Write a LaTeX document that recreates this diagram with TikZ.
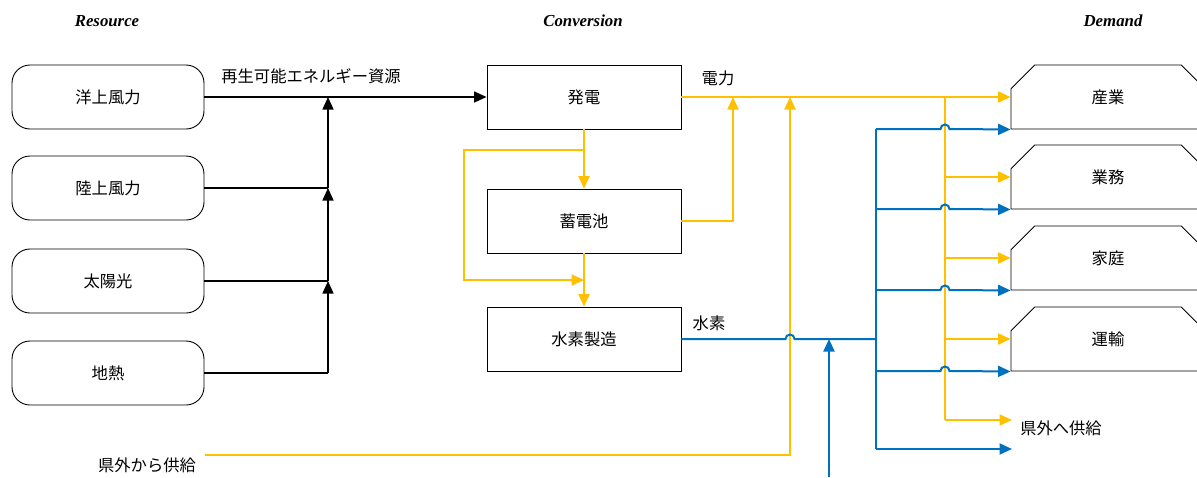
\documentclass[tikz,border=0pt]{standalone}
\usepackage{fontspec}
\setmainfont{Liberation Serif}
\newfontfamily\jp{Noto Sans CJK JP}
\usetikzlibrary{arrows.meta,shapes.misc}
\definecolor{yel}{HTML}{FFC000}
\definecolor{blu}{HTML}{0070C0}
\begin{document}
\begin{tikzpicture}[x=1pt,y=-1pt,
  jpf/.style={font=\jp\fontsize{16.3}{19}\selectfont},
  res/.style={jpf,draw,line width=0.9pt,rounded corners=18pt,minimum width=192pt,minimum height=64pt,inner sep=0pt},
  conv/.style={jpf,draw,line width=0.9pt,minimum width=194pt,minimum height=64pt,inner sep=0pt},
  dem/.style={jpf,draw,line width=0.9pt,chamfered rectangle,chamfered rectangle corners={north west,north east},
    chamfered rectangle xsep=18pt,chamfered rectangle ysep=18pt,minimum width=194pt,minimum height=64pt,inner sep=0pt},
  lab/.style={jpf,inner sep=0pt},
  ttl/.style={font=\bfseries\itshape\fontsize{16.8}{19}\selectfont,inner sep=0pt},
  tip/.style={-{Triangle[length=12.5pt,width=11pt]}},
  blk/.style={draw=black,line width=1.4pt},
  yl/.style={draw=yel,line width=2pt},
  bl/.style={draw=blu,line width=2pt}]
\useasboundingbox (0,0) rectangle (1197,477);

% titles
\node[ttl] (tR) at (107,21) {Resource};
\node[ttl] (tC) at (583,21) {Conversion};
\node[ttl] (tD) at (1113,21) {Demand};

% resource boxes
\node[res] (r1) at (108,97) {洋上風力};
\node[res] (r2) at (108,188) {陸上風力};
\node[res] (r3) at (108,281) {太陽光};
\node[res] (r4) at (108,373) {地熱};

% conversion boxes
\node[conv] (c1) at (584,97) {発電};
\node[conv] (c2) at (584,221) {蓄電池};
\node[conv] (c3) at (584,339) {水素製造};

% demand shapes
\node[dem] (d1) at (1108,97) {産業};
\node[dem] (d2) at (1108,177) {業務};
\node[dem] (d3) at (1108,258) {家庭};
\node[dem] (d4) at (1108,339) {運輸};

% labels
\node[lab] (lre) at (311,76) {再生可能エネルギー資源};
\node[lab] (lel) at (718,78) {電力};
\node[lab] (lh2) at (709,323) {水素};
\node[lab] (lin) at (147,465) {県外から供給};
\node[lab] (lout) at (1061,428) {県外へ供給};

% coordinates
\coordinate (b1) at (328,97);
\coordinate (b2) at (328,188);
\coordinate (b3) at (328,281);
\coordinate (b4) at (328,373);
\coordinate (y1) at (584,150);
\coordinate (y2) at (464,150);
\coordinate (y3) at (464,280);
\coordinate (y4) at (584,280);
\coordinate (y5) at (733,221);
\coordinate (y6) at (733,97);
\coordinate (e0) at (205,455);
\coordinate (e1) at (790,455);
\coordinate (e2) at (790,97);
\coordinate (yb) at (945,97);
\coordinate (ye) at (945,420);
\coordinate (yx) at (1012,420);
\coordinate (hb) at (876,339);
\coordinate (bt) at (876,129);
\coordinate (bb) at (876,449);
\coordinate (bx) at (1012,449);
\coordinate (bin) at (829,477);
\coordinate (bj) at (829,339);

% black connectors
\draw[blk,tip] (r1.east) -- (c1.west);
\draw[blk] (r2.east) -- (b2);
\draw[blk] (r3.east) -- (b3);
\draw[blk] (r4.east) -- (b4);
\draw[blk,tip] (b4) -- (b3);
\draw[blk,tip] (b3) -- (b2);
\draw[blk,tip] (b2) -- (b1);

% yellow connectors
\draw[yl,tip] (c1.east) -- (d1.west);
\draw[yl,tip] (c1.south) -- (c2.north);
\draw[yl,tip] (y1) -- (y2) -- (y3) -- (y4);
\draw[yl,tip] (c2.south) -- (c3.north);
\draw[yl,tip] (c2.east) -- (y5) -- (y6);
\draw[yl,tip] (e0) -- (e1) -- (e2);
\draw[yl] (yb) -- (ye);
\draw[yl,tip] (yb |- d2.west) -- (d2.west);
\draw[yl,tip] (yb |- d3.west) -- (d3.west);
\draw[yl,tip] (yb |- d4.west) -- (d4.west);
\draw[yl,tip] (ye) -- (yx);

% blue connectors
\draw[bl] (c3.east) -- (785.5,339) arc (180:360:4.5) -- (hb);
\draw[bl] (bt) -- (bb);
\draw[bl,tip] (bin) -- (bj);
\draw[bl,tip] (bt) -- (940.5,129) arc (180:360:4.5) -- (d1.west |- d1.south);
\draw[bl,tip] (876,209) -- (940.5,209) arc (180:360:4.5) -- (d2.west |- d2.south);
\draw[bl,tip] (876,290) -- (940.5,290) arc (180:360:4.5) -- (d3.west |- d3.south);
\draw[bl,tip] (876,371) -- (940.5,371) arc (180:360:4.5) -- (d4.west |- d4.south);
\draw[bl,tip] (bb) -- (bx);
\end{tikzpicture}
\end{document}
